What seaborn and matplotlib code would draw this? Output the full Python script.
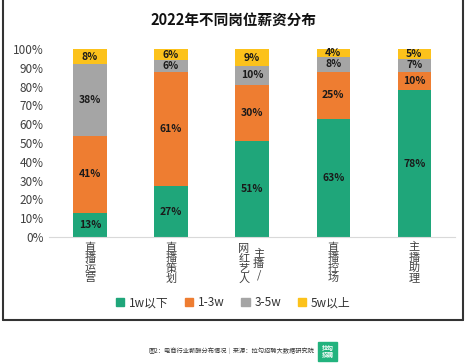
import numpy as np
import pandas as pd
import matplotlib as mpl
mpl.use('Agg')
import matplotlib.pyplot as plt
from matplotlib.lines import Line2D
from matplotlib.patches import Rectangle
import seaborn as sns

# data (percent, bottom to top)
jobs = ["直播运营", "直播策划", "主播/网红艺人", "直播控场", "主播助理"]
tick_labels = ["直\n播\n运\n营", "直\n播\n策\n划", "", "直\n播\n控\n场", "主\n播\n助\n理"]
bands = ["1w以下", "1-3w", "3-5w", "5w以上"]
low = [13, 27, 51, 63, 78]
mid = [41, 61, 30, 25, 10]
high = [38, 6, 10, 8, 7]
top = [8, 6, 9, 4, 5]
colors = ["#1fa67a", "#ee7d31", "#a5a5a5", "#fcc21b"]

sns.set_theme(style="white")
plt.rcParams['font.family'] = ['Noto Sans CJK SC', 'DejaVu Sans']

df = pd.DataFrame({"job": jobs, "1w以下": low, "1-3w": mid, "3-5w": high, "5w以上": top})
cum = df[bands].cumsum(axis=1)

fig = plt.figure(figsize=(4.66, 3.64), dpi=100)
ax = fig.add_axes([0.106, 0.349, 0.87, 0.516])

# draw from the top band down so each layer covers the one above its bottom
for band, c in zip(bands[::-1], colors[::-1]):
    sns.barplot(x=df["job"], y=cum[band], color=c, width=0.41, ax=ax,
                saturation=1, edgecolor="none")

for i in range(len(jobs)):
    start = 0
    for band in bands:
        v = df.loc[i, band]
        ax.text(i, start + v / 2, f"{v}%", ha="center", va="center",
                fontsize=7.5, fontweight="bold", color="#1a1a1a")
        start += v

ax.set_ylim(0, 100)
ax.set_xlim(-0.5, 4.5)
ax.set_yticks(range(0, 101, 10))
ax.set_yticklabels([f"{t}%" for t in range(0, 101, 10)], fontsize=8.5, color="#404040")
ax.set_xticks(range(5))
ax.set_xticklabels(tick_labels, fontsize=8, color="#404040", va="top", linespacing=1.0)
ax.tick_params(axis="both", length=0, pad=4)
ax.set_xlabel("")
ax.set_ylabel("")
for s in ["top", "right", "left"]:
    ax.spines[s].set_visible(False)
ax.spines["bottom"].set_color("#d9d9d9")
ax.spines["bottom"].set_linewidth(0.8)

# the wrapped label for the middle bar: two stacked columns
ax.text(1.9, -3.5, "网\n红\n艺\n人", ha="center", va="top", fontsize=8,
        color="#404040", linespacing=1.0)
ax.text(2.08, -6.5, "主\n播\n/", ha="center", va="top", fontsize=8,
        color="#404040", linespacing=1.0)

fig.text(0.5, 0.945, "2022年不同岗位薪资分布", ha="center", va="center",
         fontsize=10.5, fontweight="bold", color="#111111")

handles = [Rectangle((0, 0), 1, 1, color=c) for c in colors]
fig.legend(handles, bands, loc="center", bbox_to_anchor=(0.5, 0.168), ncol=4,
           frameon=False, fontsize=8.5, handlelength=0.7, handleheight=0.7,
           handletextpad=0.4, columnspacing=1.4, labelcolor="#333333")

# outer frame of the screenshot
fig.add_artist(Line2D([0.007, 0.007], [1.0, 0.12], color="#333333", lw=1.5))
fig.add_artist(Line2D([0.993, 0.993], [1.0, 0.12], color="#333333", lw=1.5))
fig.add_artist(Line2D([0.007, 0.993], [0.12, 0.12], color="#333333", lw=1.5))

fig.text(0.675, 0.036, "图2：电商行业薪酬分布情况｜来源：拉勾招聘大数据研究院", ha="right",
         va="center", fontsize=4.5, color="#333333")
fig.add_artist(Rectangle((0.683, 0.008), 0.041, 0.053, transform=fig.transFigure,
                         color="#22b37e"))
fig.text(0.7035, 0.035, "拉勾\n招聘", ha="center", va="center", fontsize=4.3,
         color="white", fontweight="bold", linespacing=1.0)

fig.savefig("out.png", dpi=100)
